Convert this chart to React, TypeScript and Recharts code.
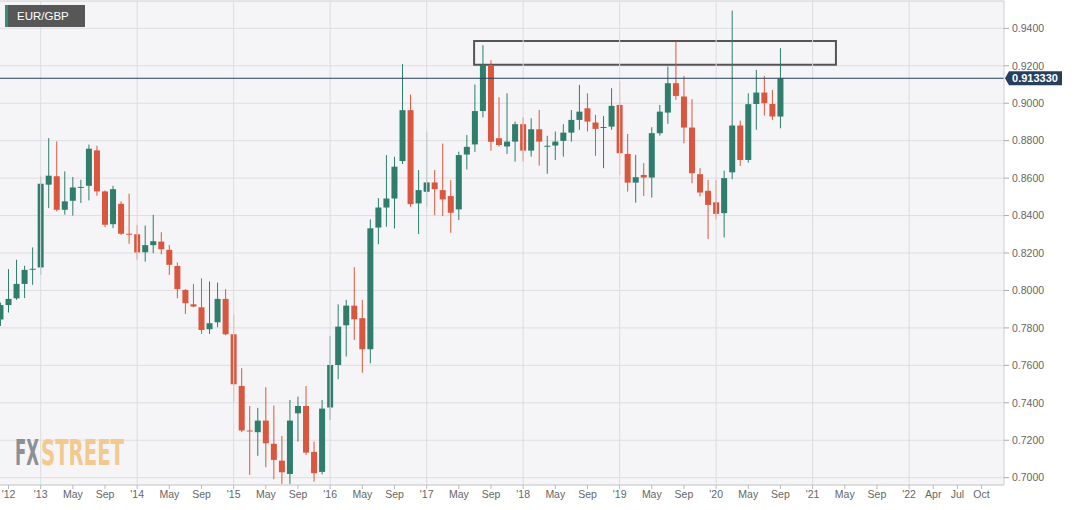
import React from 'react';
import { ComposedChart, Bar, XAxis, YAxis, CartesianGrid, ReferenceLine, ReferenceArea } from 'recharts';

// Month index: 0 = Jan 2013. First candle = Aug 2012.
const FIRST_MONTH = -5;

const opens = [
  0.7845, 0.7922, 0.7958, 0.8035, 0.8112,
  0.8123, 0.8565, 0.8610, 0.8431, 0.8479, 0.8550, 0.8559, 0.8748, 0.8529, 0.8354, 0.8463, 0.8303,
  0.8300, 0.8204, 0.8242, 0.8261, 0.8217, 0.8131, 0.8003, 0.7926, 0.7910, 0.7793, 0.7830, 0.7955,
  0.7766, 0.7490, 0.7252, 0.7243, 0.7305, 0.7181, 0.7091, 0.7020, 0.7344, 0.7383, 0.7138, 0.7031,
  0.7375, 0.7602, 0.7814, 0.7919, 0.7852, 0.7686, 0.8336, 0.8443, 0.8491, 0.8691, 0.8963, 0.8465,
  0.8527, 0.8577, 0.8536, 0.8504, 0.8433, 0.8726, 0.8780, 0.8958, 0.9204, 0.8813, 0.8769, 0.8795,
  0.8888, 0.8747, 0.8861, 0.8771, 0.8774, 0.8799, 0.8843, 0.8911, 0.8973, 0.8897, 0.8870, 0.8875,
  0.8991, 0.8729, 0.8576, 0.8617, 0.8603, 0.8840, 0.8950, 0.9107, 0.9036, 0.8870, 0.8621, 0.8532,
  0.8471, 0.8413, 0.8631, 0.8881, 0.8697, 0.8996, 0.9057, 0.8996, 0.8929,
];
const highs = [
  0.7935, 0.8114, 0.8164, 0.8132, 0.8230,
  0.8609, 0.8814, 0.8796, 0.8636, 0.8606, 0.8591, 0.8779, 0.8773, 0.8534, 0.8559, 0.8476, 0.8517,
  0.8350, 0.8347, 0.8404, 0.8311, 0.8243, 0.8149, 0.8007, 0.8035, 0.8065, 0.8048, 0.8042, 0.8007,
  0.7873, 0.7585, 0.7383, 0.7373, 0.7483, 0.7385, 0.7223, 0.7415, 0.7433, 0.7490, 0.7193, 0.7415,
  0.7757, 0.7926, 0.7950, 0.8124, 0.7950, 0.8380, 0.8493, 0.8723, 0.8714, 0.9209, 0.9047, 0.8643,
  0.8848, 0.8643, 0.8785, 0.8589, 0.8741, 0.8830, 0.9100, 0.9310, 0.9230, 0.9032, 0.9053, 0.8902,
  0.8925, 0.8920, 0.8964, 0.8826, 0.8849, 0.8888, 0.8964, 0.9098, 0.9053, 0.8938, 0.8932, 0.9080,
  0.9116, 0.8836, 0.8724, 0.8680, 0.8872, 0.8991, 0.9196, 0.9329, 0.9146, 0.9021, 0.8653, 0.8591,
  0.8591, 0.8640, 0.9495, 0.8907, 0.9053, 0.9178, 0.9146, 0.9071, 0.9294,
];
const lows = [
  0.7810, 0.7882, 0.7950, 0.7959, 0.8030,
  0.8083, 0.8440, 0.8422, 0.8405, 0.8400, 0.8467, 0.8481, 0.8506, 0.8338, 0.8333, 0.8297, 0.8249,
  0.8164, 0.8154, 0.8199, 0.8193, 0.8083, 0.7958, 0.7875, 0.7910, 0.7768, 0.7768, 0.7804, 0.7761,
  0.7403, 0.7243, 0.7015, 0.7117, 0.7056, 0.6992, 0.6967, 0.6967, 0.7193, 0.7122, 0.6979, 0.7018,
  0.7309, 0.7526, 0.7647, 0.7736, 0.7561, 0.7611, 0.8247, 0.8340, 0.8331, 0.8675, 0.8447, 0.8301,
  0.8447, 0.8402, 0.8397, 0.8308, 0.8376, 0.8646, 0.8740, 0.8924, 0.8746, 0.8769, 0.8729, 0.8688,
  0.8688, 0.8715, 0.8667, 0.8623, 0.8697, 0.8715, 0.8795, 0.8858, 0.8849, 0.8719, 0.8653, 0.8858,
  0.8617, 0.8528, 0.8469, 0.8505, 0.8496, 0.8827, 0.8890, 0.9018, 0.8786, 0.8573, 0.8502, 0.8274,
  0.8380, 0.8283, 0.8594, 0.8665, 0.8683, 0.8858, 0.8934, 0.8911, 0.8866,
];
const closes = [
  0.7922, 0.7955, 0.8035, 0.8110, 0.8116,
  0.8570, 0.8613, 0.8431, 0.8476, 0.8550, 0.8553, 0.8757, 0.8529, 0.8351, 0.8541, 0.8303, 0.8300,
  0.8203, 0.8242, 0.8263, 0.8220, 0.8137, 0.8007, 0.7932, 0.7914, 0.7789, 0.7825, 0.7955, 0.7766,
  0.7499, 0.7252, 0.7248, 0.7305, 0.7184, 0.7095, 0.7029, 0.7305, 0.7383, 0.7134, 0.7024, 0.7369,
  0.7602, 0.7807, 0.7919, 0.7846, 0.7686, 0.8332, 0.8443, 0.8491, 0.8661, 0.8963, 0.8461, 0.8536,
  0.8577, 0.8541, 0.8486, 0.8415, 0.8723, 0.8767, 0.8958, 0.9204, 0.8794, 0.8777, 0.8795, 0.8888,
  0.8747, 0.8861, 0.8795, 0.8773, 0.8795, 0.8843, 0.8911, 0.8955, 0.8902, 0.8863, 0.8873, 0.8986,
  0.8733, 0.8576, 0.8605, 0.8603, 0.8840, 0.8955, 0.9107, 0.9039, 0.8870, 0.8626, 0.8523, 0.8457,
  0.8409, 0.8600, 0.8881, 0.8697, 0.8995, 0.9057, 0.9000, 0.8929, 0.91333,
];

const xTickValues = [-4, 0, 4, 8, 12, 16, 20, 24, 28, 32, 36, 40, 44, 48, 52, 56, 60, 64, 68, 72, 76, 80, 84, 88, 92, 96, 100, 104, 108, 111, 114, 117];
const xTickLabels = ["'12", "'13", 'May', 'Sep', "'14", 'May', 'Sep', "'15", 'May', 'Sep', "'16", 'May', 'Sep', "'17", 'May', 'Sep', "'18", 'May', 'Sep', "'19", 'May', 'Sep', "'20", 'May', 'Sep', "'21", 'May', 'Sep', "'22", 'Apr', 'Jul', 'Oct'];
const yearLines = [0, 12, 24, 36, 48, 60, 72, 84, 96, 108];
const yTicks = [0.70, 0.72, 0.74, 0.76, 0.78, 0.80, 0.82, 0.84, 0.86, 0.88, 0.90, 0.92, 0.94];
const xDomain = [-5.06, 119.8];
const yDomain = [0.6961, 0.9546];
const zoneMonths = [53.9, 98.9];
const zonePrices = [0.9205, 0.9332];
const lastPrice = 0.91333;

const GREEN = '#2f7d6c';
const RED = '#d9573f';
const NAVY = '#263f5e';
const FONT = '"Liberation Sans", Arial, Helvetica, sans-serif';

const data = opens.map((o, i) => ({
  m: FIRST_MONTH + i,
  open: o,
  high: highs[i],
  low: lows[i],
  close: closes[i],
}));

const Candle = (props: any) => {
  const { x, y, width, height, payload } = props;
  if (!payload || height == null) return null;
  const { open, close, high, low } = payload;
  const cx = x + width / 2;
  const ppu = height / (high - low);
  const yOf = (v: number) => y + (high - v) * ppu;
  const up = close >= open;
  const color = up ? GREEN : RED;
  const top = yOf(Math.max(open, close));
  const bot = yOf(Math.min(open, close));
  const bh = Math.max(1, bot - top);
  return (
    <g>
      <line x1={cx} x2={cx} y1={y} y2={y + height} stroke={color} strokeWidth={1} />
      <rect x={cx - width / 2} y={top} width={width} height={bh} fill={color} />
    </g>
  );
};

const PriceTag = (props: any) => {
  const vb = props.viewBox || {};
  const right = vb.x + vb.width;
  const cy = vb.y;
  return (
    <g>
      <polygon
        points={`${right + 1},${cy} ${right + 5},${cy - 7} ${right + 58},${cy - 7} ${right + 58},${cy + 7} ${right + 5},${cy + 7}`}
        fill={NAVY}
      />
      <text x={right + 31} y={cy + 4} textAnchor="middle" fill="#fff" fontSize={11} fontWeight="bold" fontFamily={FONT}>
        {lastPrice.toFixed(6)}
      </text>
    </g>
  );
};

export default function App() {
  return (
    <div style={{ position: 'absolute', left: 0, top: 0, width: 1075, height: 510, background: '#fff', fontFamily: FONT }}>
      <ComposedChart
        width={1075}
        height={510}
        data={data}
        margin={{ top: 1, right: 0, bottom: 0, left: 0 }}
        style={{ fontFamily: FONT }}
      >
        <CartesianGrid vertical={false} stroke="#dedee0" fill="#f5f5f7" />
        {yearLines.map((v) => (
          <ReferenceLine key={'yl' + v} x={v} stroke="#dcdcdf" strokeWidth={1} />
        ))}
        <ReferenceLine y={yDomain[1]} stroke="#dcdcdf" strokeWidth={1} />
        <XAxis
          type="number"
          dataKey="m"
          domain={xDomain}
          allowDataOverflow
          ticks={xTickValues}
          interval={0}
          tickFormatter={(v: number) => xTickLabels[xTickValues.indexOf(v)] ?? ''}
          height={25}
          tickSize={4}
          tickMargin={2}
          tick={{ fontSize: 10.5, fill: '#666' }}
          axisLine={{ stroke: '#cfcfd2' }}
          tickLine={{ stroke: '#bbb' }}
        />
        <YAxis
          orientation="right"
          domain={yDomain}
          allowDataOverflow
          ticks={yTicks}
          interval={0}
          width={71}
          tickSize={5}
          tickMargin={3}
          tickFormatter={(v: number) => v.toFixed(4)}
          tick={{ fontSize: 10.5, fill: '#666', textAnchor: 'start' }}
          axisLine={{ stroke: '#cfcfd2' }}
          tickLine={{ stroke: '#aaa' }}
        />
        <Bar
          dataKey={(d: any) => [d.low, d.high]}
          barSize={6}
          shape={<Candle />}
          isAnimationActive={false}
        />
        <ReferenceArea
          x1={zoneMonths[0]}
          x2={zoneMonths[1]}
          y1={zonePrices[0]}
          y2={zonePrices[1]}
          fill="none"
          fillOpacity={0}
          stroke="#555"
          strokeWidth={2}
        />
        <ReferenceLine y={lastPrice} stroke={NAVY} strokeWidth={1} label={(p: any) => <PriceTag {...p} />} />
      </ComposedChart>
      <div
        style={{
          position: 'absolute',
          left: 5,
          top: 5,
          width: 68,
          height: 22,
          background: '#575757',
          borderLeft: '3px solid #2f8f7b',
          color: '#fff',
          fontSize: 11.5,
          lineHeight: '22px',
          paddingLeft: 9,
          boxSizing: 'content-box',
          fontFamily: FONT,
        }}
      >
        EUR/GBP
      </div>
      <svg style={{ position: 'absolute', left: 0, top: 0, pointerEvents: 'none' }} width={200} height={510}>
        <text y={465} fontSize={36} fontWeight="bold"
          fontFamily='"Liberation Sans Narrow", "DejaVu Sans Condensed", sans-serif'>
          <tspan x={15} fill="#8e8e96" textLength={24} lengthAdjust="spacingAndGlyphs">FX</tspan>
          <tspan x={41} fill="#f3c98f" textLength={83} lengthAdjust="spacingAndGlyphs">STREET</tspan>
        </text>
      </svg>
    </div>
  );
}
